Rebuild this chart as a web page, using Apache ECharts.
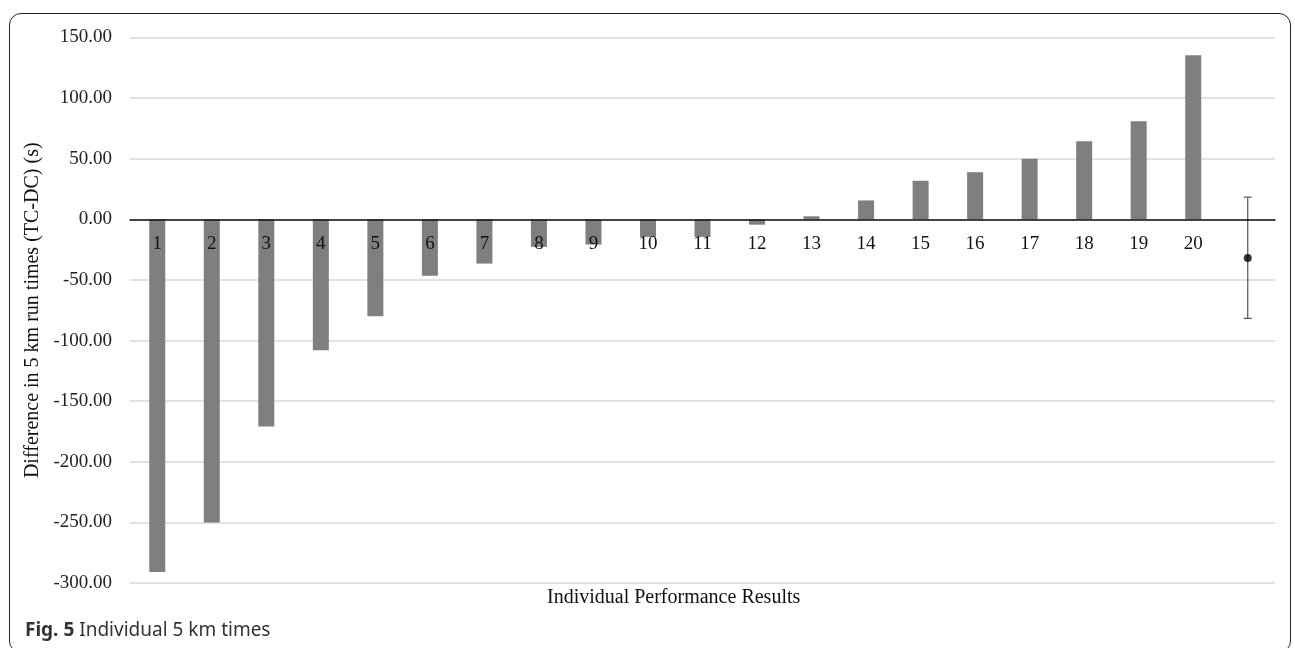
<!DOCTYPE html>
<html>
<head>
<meta charset="utf-8">
<script src="https://cdn.jsdelivr.net/npm/echarts@6/dist/echarts.min.js"></script>
<style>
html,body{margin:0;padding:0;background:#fff;}
#frame{position:absolute;left:9px;top:13px;width:1282px;height:640px;border:1.5px solid #222;border-radius:12px;box-sizing:border-box;}
#chart{position:absolute;left:0;top:0;width:1295px;height:648px;}
#cap{position:absolute;left:25px;top:616px;font-family:"Noto Sans","Open Sans",sans-serif;font-size:19px;color:#333;}
</style>
</head>
<body>
<div id="frame"></div>
<div id="chart"></div>
<div id="cap"><b>Fig. 5</b> Individual 5 km times</div>
<script>
const categories = ['1','2','3','4','5','6','7','8','9','10','11','12','13','14','15','16','17','18','19','20',''];
const differences = [-291, -250, -171, -108, -80, -46.6, -36.5, -22.7, -20.8, -14.5, -14.5, -4.4, 2.5, 15.6, 31.8, 38.9, 50, 64.4, 80.9, 135.4, null];
const meanIndex = 20;
const meanValue = -31.8;
const meanLow = -81.7;
const meanHigh = 18.3;
const yTicks = {min: -300, max: 150, interval: 50};

const chart = echarts.init(document.getElementById('chart'));
const serif = '"Liberation Serif","Times New Roman",serif';
chart.setOption({
  animation: false,
  grid: {left: 130, right: 20, top: 37.5, bottom: 65},
  xAxis: {
    type: 'category',
    data: categories,
    axisLine: {onZero: true, lineStyle: {color: '#111', width: 1.5}},
    axisTick: {show: false},
    axisLabel: {fontFamily: serif, fontSize: 19, color: '#111', margin: -348},
    z: 5
  },
  yAxis: {
    type: 'value',
    min: yTicks.min, max: yTicks.max, interval: yTicks.interval,
    axisLine: {show: false},
    axisTick: {show: false},
    splitLine: {lineStyle: {color: '#d9d9d9', width: 1.5}},
    axisLabel: {fontFamily: serif, fontSize: 19, color: '#222', margin: 18,
      formatter: v => v.toFixed(2)},
    name: 'Difference in 5 km run times (TC-DC) (s)',
    nameLocation: 'middle',
    nameGap: 80,
    nameTextStyle: {fontFamily: serif, fontSize: 20, color: '#111'}
  },
  graphic: [{
    type: 'text', left: 547, top: 588,
    style: {text: 'Individual Performance Results', font: '20px ' + serif, fill: '#111'}
  }],
  series: [
    {
      type: 'bar',
      data: differences,
      barWidth: 16,
      itemStyle: {color: '#7f7f7f'}
    },
    {
      type: 'custom',
      data: [[meanIndex, meanLow, meanHigh]],
      renderItem: function (params, api) {
        const x = api.value(0);
        const lo = api.coord([x, api.value(1)]);
        const hi = api.coord([x, api.value(2)]);
        const cap = 4;
        const st = {stroke: '#555', lineWidth: 1.2};
        return {type: 'group', children: [
          {type: 'line', shape: {x1: lo[0], y1: lo[1], x2: hi[0], y2: hi[1]}, style: st},
          {type: 'line', shape: {x1: lo[0]-cap, y1: lo[1], x2: lo[0]+cap, y2: lo[1]}, style: st},
          {type: 'line', shape: {x1: hi[0]-cap, y1: hi[1], x2: hi[0]+cap, y2: hi[1]}, style: st}
        ]};
      },
      z: 3
    },
    {
      type: 'scatter',
      data: [[meanIndex, meanValue]],
      symbol: 'circle',
      symbolSize: 8,
      itemStyle: {color: '#000'},
      z: 4
    }
  ]
});
</script>
</body>
</html>
